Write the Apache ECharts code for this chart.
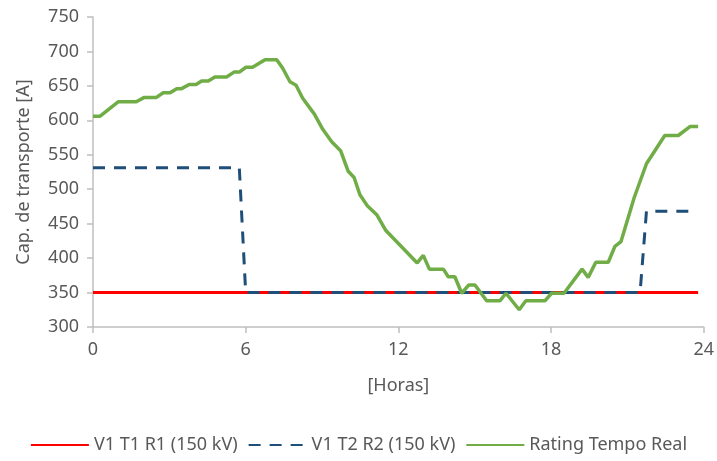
<!DOCTYPE html>
<html>
<head>
<meta charset="utf-8">
<script src="https://cdn.jsdelivr.net/npm/echarts@6/dist/echarts.min.js"></script>
<style>
html,body{margin:0;padding:0;background:#fff;}
#chart{width:717px;height:461px;}
</style>
</head>
<body>
<div id="chart"></div>
<script>
var seriesNames = ['V1 T1 R1 (150 kV)', 'V1 T2 R2 (150 kV)', 'Rating Tempo Real'];
var xTicks = [0, 6, 12, 18, 24];
var yTicks = [300, 350, 400, 450, 500, 550, 600, 650, 700, 750];

var redLine = [[0, 350], [23.78, 350]];
var blueLine = [[0, 531], [5.75, 531], [6.0, 350], [21.5, 350], [21.75, 468], [23.5, 468]];
var greenLine = [
  [0, 606], [0.28, 606], [1.0, 627], [1.7, 627], [2.0, 633], [2.48, 633], [2.76, 640], [3.03, 640],
  [3.29, 646], [3.48, 646], [3.78, 652], [4.05, 652], [4.27, 657], [4.53, 657], [4.79, 663], [5.25, 663],
  [5.54, 670], [5.75, 670], [6.01, 677], [6.27, 677], [6.76, 688], [7.22, 688], [7.45, 676], [7.74, 656],
  [7.98, 651], [8.24, 632], [8.7, 609], [9.03, 587], [9.38, 569], [9.73, 556], [10.03, 526], [10.26, 517],
  [10.49, 492], [10.78, 476], [11.15, 463], [11.51, 440], [12.06, 419], [12.74, 393], [12.98, 404], [13.22, 384],
  [13.77, 384], [13.96, 373], [14.22, 373], [14.49, 349], [14.77, 361], [15.01, 361], [15.47, 338], [15.99, 338],
  [16.23, 349], [16.75, 325], [17.01, 338], [17.76, 338], [18.02, 349], [18.51, 349], [19.22, 384], [19.46, 372],
  [19.76, 394], [20.25, 394], [20.51, 417], [20.75, 424], [21.27, 488], [21.75, 537], [22.47, 578], [23.0, 578],
  [23.46, 591], [23.78, 591]
];

var FONT = '"Noto Sans", "Open Sans", sans-serif';
var TXT = '#595959';
var AX = '#bfbfbf';

var chart = echarts.init(document.getElementById('chart'), null, {renderer: 'canvas'});
chart.setOption({
  animation: false,
  backgroundColor: '#ffffff',
  textStyle: {fontFamily: FONT, color: TXT},
  grid: {left: 93, right: 13, top: 17, bottom: 134},
  legend: {
    data: seriesNames,
    bottom: 2,
    left: 'center',
    itemWidth: 58,
    itemHeight: 12,
    itemGap: 10,
    itemStyle: {opacity: 0},
    textStyle: {fontFamily: FONT, fontSize: 18, color: TXT}
  },
  xAxis: {
    type: 'value',
    min: xTicks[0],
    max: xTicks[xTicks.length - 1],
    interval: 6,
    name: '[Horas]',
    nameLocation: 'middle',
    nameGap: 50,
    nameTextStyle: {fontFamily: FONT, fontSize: 18, color: TXT},
    axisLine: {show: true, lineStyle: {color: AX, width: 1.5}},
    axisTick: {show: true, length: 6, lineStyle: {color: AX, width: 1.5}},
    axisLabel: {fontFamily: FONT, fontSize: 18, color: TXT, margin: 14},
    splitLine: {show: false}
  },
  yAxis: {
    type: 'value',
    min: yTicks[0],
    max: yTicks[yTicks.length - 1],
    interval: 50,
    name: 'Cap. de transporte [A]',
    nameLocation: 'middle',
    nameGap: 60,
    nameTextStyle: {fontFamily: FONT, fontSize: 18, color: TXT},
    axisLine: {show: true, lineStyle: {color: AX, width: 1.5}},
    axisTick: {show: true, length: 6, lineStyle: {color: AX, width: 1.5}},
    axisLabel: {fontFamily: FONT, fontSize: 18, color: TXT, margin: 14},
    splitLine: {show: false}
  },
  series: [
    {
      name: seriesNames[0], type: 'line', data: redLine, symbol: 'none',
      lineStyle: {color: '#ff0000', width: 3}, itemStyle: {color: '#ff0000'}, z: 2
    },
    {
      name: seriesNames[1], type: 'line', data: blueLine, symbol: 'none',
      lineStyle: {color: '#1f4e79', width: 3, type: [12, 9]}, itemStyle: {color: '#1f4e79'}, z: 3
    },
    {
      name: seriesNames[2], type: 'line', data: greenLine, symbol: 'none',
      lineStyle: {color: '#70ad47', width: 3.5}, itemStyle: {color: '#70ad47'}, z: 4
    }
  ]
});
</script>
</body>
</html>
